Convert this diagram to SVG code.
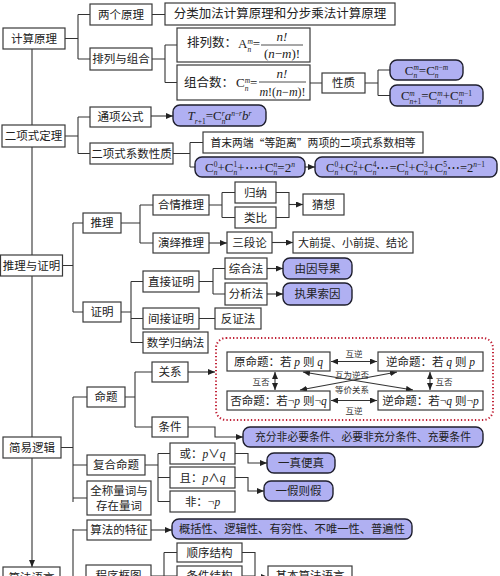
<svg xmlns="http://www.w3.org/2000/svg" width="500" height="576" viewBox="0 0 500 576">
<style>
.box{fill:#fff;stroke:#3a3a3a;stroke-width:1.2}
.pill{fill:#b0b0f2;stroke:#1f1f2e;stroke-width:1.4}
.t{font-family:"Liberation Serif","Noto Sans CJK SC",serif;font-size:11.5px;fill:#222;text-anchor:middle;dominant-baseline:central}
.f{font-family:"Liberation Serif",serif;font-size:13px;fill:#222;text-anchor:middle}
.i{font-style:italic}
.s{font-size:7.5px}
.q{font-family:"Noto Sans CJK SC",sans-serif}
.c{fill:none;stroke:#333;stroke-width:1.1}
.a{marker-end:url(#ah)}
.d{marker-start:url(#ah);marker-end:url(#ah)}
.lbl{font-family:"Noto Sans CJK SC",sans-serif;font-size:8.5px;fill:#333;text-anchor:middle;dominant-baseline:central}
.dot{fill:none;stroke:#c02035;stroke-width:2;stroke-dasharray:1.3 2.2}
</style>
<defs>
<marker id="ah" viewBox="0 0 7 6" refX="7" refY="3" markerWidth="7" markerHeight="6" markerUnits="userSpaceOnUse" orient="auto-start-reverse"><path d="M0,0 L7,3 L0,6 z" fill="#222"/></marker>
</defs>
<rect width="500" height="576" fill="#fff"/>

<g id="connectors">
<path class="c a" d="M32,49 V125 M32,147 V255 M32,276 V437 M32,458 V567"/>
<path class="c" d="M65,38.5 H78 M78,14.5 V59 M78,14.5 H90 M78,59 H90 M152,14.5 H165 M152,59 H165 M165,45 V82.5 M165,45 H177 M165,82.5 H177 M310,83 H322 M365,83 H378 M378,70 V95.5 M378,70 H390 M378,95.5 H390"/>
<path class="c" d="M65,136 H78 M78,117 V153.5 M78,117 H90 M78,153.5 H90 M173,153.5 H190 M190,142.5 V167 M190,142.5 H203 M190,167 H195"/>
<path class="c a" d="M151,116 H173"/>
<path class="c a" d="M305,167 H315"/>
<path class="c" d="M62,265.5 H73 M73,223 V312 M73,223 H83 M73,312 H83 M121,223 H140 M140,205 V243 M140,205 H153 M140,243 H153 M209,205 H222 M222,192.5 V217.5 M222,192.5 H235 M222,217.5 H235 M276,192.5 H289 V217.5 H276"/>
<path class="c a" d="M289,204.5 H303"/>
<path class="c a" d="M209,243 H227"/>
<path class="c a" d="M272,242.5 H293"/>
<path class="c" d="M121,312 H131 M131,281.5 V342.5 M131,281.5 H143 M131,318.5 H143 M131,342.5 H143 M199,281.5 H213 M213,268.5 V294 M213,268.5 H225 M213,294 H225 M199,318.5 H215"/>
<path class="c a" d="M267,268.5 H283"/>
<path class="c a" d="M267,294 H283"/>
<path class="c" d="M61,447.5 H73 M73,397 V502 M73,397 H87 M73,465 H87 M73,498 H87 M125,397 H135 M135,372 V427 M135,372 H152 M135,427 H152"/>
<path class="c a" d="M188,372 H215"/>
<path class="c a" d="M188,427 H215 V437 H243"/>
<path class="c d" d="M331,361.5 H377"/>
<path class="c d" d="M331,400.5 H377"/>
<path class="c d" d="M275,372 V390"/>
<path class="c d" d="M430,372 V390"/>
<path class="c d" d="M303,372 L413,390"/>
<path class="c d" d="M397,372 L300,390"/>
<path class="c" d="M145,465 H158 M158,453.5 V501.5 M158,453.5 H170 M158,477.5 H170 M158,501.5 H170"/>
<path class="c a" d="M235,453.5 H248 V463 H267"/>
<path class="c a" d="M235,477.5 H248 V491 H264"/>
<path class="c" d="M73,529 V590 M73,530 H87 M60,578 H86 M151,576 H164 M164,552.5 V590 M164,552.5 H177 M164,576 H177 M242,552.5 H255 V590 M242,576 H255"/>
<path class="c a" d="M151,530 H172"/>
<path class="c a" d="M255,577 H268"/>
</g>

<g id="n-jisuan"><rect class="box" x="3" y="28" width="62" height="21"/><text class="t" x="34" y="38.5">计算原理</text></g>
<g id="n-liangge"><rect class="box" x="90" y="4" width="62" height="21"/><text class="t" x="121" y="14.5">两个原理</text></g>
<g id="n-fenlei"><rect class="box" x="165" y="3" width="230" height="22"/><text class="t" x="280" y="14" style="font-size:12.5px">分类加法计算原理和分步乘法计算原理</text></g>
<g id="n-pailiezuhe"><rect class="box" x="90" y="48" width="62" height="22"/><text class="t" x="121" y="59">排列与组合</text></g>
<g id="n-pailieshu"><rect class="box" x="177" y="28" width="133" height="34"/>
<text class="t" x="187" y="43" style="text-anchor:start;font-size:12.5px">排列数：</text>
<text class="f" x="238" y="48" style="text-anchor:start">A<tspan class="s i" dy="3.5">n</tspan><tspan class="s i" dx="-3.75" dy="-8">m</tspan><tspan dy="4.5">=</tspan></text>
<text class="f i" x="282" y="41">n!</text>
<line x1="261" y1="45" x2="303" y2="45" stroke="#222" stroke-width="0.8"/>
<text class="f" x="282" y="57.5">(<tspan class="i">n</tspan>−<tspan class="i">m</tspan>)!</text>
</g>
<g id="n-zuheshu"><rect class="box" x="177" y="65" width="133" height="35"/>
<text class="t" x="184" y="83" style="text-anchor:start;font-size:12.5px">组合数：</text>
<text class="f" x="236" y="87" style="text-anchor:start">C<tspan class="s i" dy="3.5">n</tspan><tspan class="s i" dx="-3.75" dy="-8">m</tspan><tspan dy="4.5">=</tspan></text>
<text class="f i" x="282" y="78">n!</text>
<line x1="259" y1="82" x2="306" y2="82" stroke="#222" stroke-width="0.8"/>
<text class="f" x="282.5" y="95.5" style="font-size:12px"><tspan class="i">m</tspan>!(<tspan class="i">n</tspan>−<tspan class="i">m</tspan>)!</text>
</g>
<g id="n-xingzhi"><rect class="box" x="322" y="73" width="43" height="20"/><text class="t" x="343.5" y="83">性质</text></g>
<g id="n-prop1"><rect class="pill" x="390" y="60" width="73" height="20" rx="7"/>
<text class="f" x="426.5" y="74.5">C<tspan class="s i" dy="3.5">n</tspan><tspan class="s i" dx="-3.75" dy="-8">m</tspan><tspan dy="4.5">=C</tspan><tspan class="s i" dy="3.5">n</tspan><tspan class="s" dx="-3.75" dy="-8"><tspan class="i">n</tspan>−<tspan class="i">m</tspan></tspan></text></g>
<g id="n-prop2"><rect class="pill" x="390" y="85" width="93" height="21" rx="7"/>
<text class="f" x="436.5" y="100">C<tspan class="s" dy="3.5"><tspan class="i">n</tspan>+1</tspan><tspan class="s i" dx="-12" dy="-8">m</tspan><tspan dx="6.5" dy="4.5">=C</tspan><tspan class="s i" dy="3.5">n</tspan><tspan class="s i" dx="-3.75" dy="-8">m</tspan><tspan dy="4.5">+C</tspan><tspan class="s i" dy="3.5">n</tspan><tspan class="s" dx="-3.75" dy="-8"><tspan class="i">m</tspan>−1</tspan></text></g>

<g id="n-erxiang"><rect class="box" x="2" y="125" width="63" height="22"/><text class="t" x="33.5" y="136">二项式定理</text></g>
<g id="n-tongxiang"><rect class="box" x="90" y="107" width="61" height="20"/><text class="t" x="120.5" y="117">通项公式</text></g>
<g id="n-tr1"><rect class="pill" x="173" y="105" width="93" height="21" rx="7"/>
<text class="f" x="219.5" y="120"><tspan class="i">T</tspan><tspan class="s" dy="3.5"><tspan class="i">r</tspan>+1</tspan><tspan dy="-3.5">=C</tspan><tspan class="s i" dy="3.5">n</tspan><tspan class="s i" dx="-3.75" dy="-8">r</tspan><tspan class="i" dy="4.5">a</tspan><tspan class="s" dy="-4.5"><tspan class="i">n</tspan>−<tspan class="i">r</tspan></tspan><tspan class="i" dy="4.5">b</tspan><tspan class="s i" dy="-4.5">r</tspan></text></g>
<g id="n-xishu"><rect class="box" x="90" y="143" width="83" height="21"/><text class="t" x="131.5" y="153.5">二项式系数性质</text></g>
<g id="n-shoumo"><rect class="box" x="203" y="132" width="220" height="21"/><text class="t" x="313" y="142.5" style="font-size:10.8px">首末两端<tspan class="q">“</tspan>等距离<tspan class="q">”</tspan>两项的二项式系数相等</text></g>
<g id="n-sum"><rect class="pill" x="195" y="157" width="110" height="20" rx="7"/>
<text class="f" x="250" y="171.5">C<tspan class="s i" dy="3.5">n</tspan><tspan class="s" dx="-3.75" dy="-8">0</tspan><tspan dy="4.5">+C</tspan><tspan class="s i" dy="3.5">n</tspan><tspan class="s" dx="-3.75" dy="-8">1</tspan><tspan dy="4.5">+⋯+C</tspan><tspan class="s i" dy="3.5">n</tspan><tspan class="s i" dx="-3.75" dy="-8">n</tspan><tspan dy="4.5">=2</tspan><tspan class="s i" dy="-4.5">n</tspan></text></g>
<g id="n-oddeven"><rect class="pill" x="315" y="157" width="182" height="20" rx="7"/>
<text class="f" x="405.5" y="171.5" style="font-size:12.5px">C<tspan class="s i" dy="3.5">n</tspan><tspan class="s" dx="-3.75" dy="-8">0</tspan><tspan dy="4.5">+C</tspan><tspan class="s i" dy="3.5">n</tspan><tspan class="s" dx="-3.75" dy="-8">2</tspan><tspan dy="4.5">+C</tspan><tspan class="s i" dy="3.5">n</tspan><tspan class="s" dx="-3.75" dy="-8">4</tspan><tspan dy="4.5">⋯=C</tspan><tspan class="s i" dy="3.5">n</tspan><tspan class="s" dx="-3.75" dy="-8">1</tspan><tspan dy="4.5">+C</tspan><tspan class="s i" dy="3.5">n</tspan><tspan class="s" dx="-3.75" dy="-8">3</tspan><tspan dy="4.5">+C</tspan><tspan class="s i" dy="3.5">n</tspan><tspan class="s" dx="-3.75" dy="-8">5</tspan><tspan dy="4.5">⋯=2</tspan><tspan class="s" dy="-4.5"><tspan class="i">n</tspan>−1</tspan></text></g>

<g id="n-tlzm"><rect class="box" x="0.5" y="255" width="62" height="21"/><text class="t" x="31.5" y="265.5">推理与证明</text></g>
<g id="n-tuili"><rect class="box" x="83" y="213" width="38" height="20"/><text class="t" x="102" y="223">推理</text></g>
<g id="n-heqing"><rect class="box" x="153" y="195" width="56" height="20"/><text class="t" x="181" y="205">合情推理</text></g>
<g id="n-guina"><rect class="box" x="235" y="182" width="41" height="21"/><text class="t" x="255.5" y="192.5">归纳</text></g>
<g id="n-leibi"><rect class="box" x="235" y="207" width="41" height="21"/><text class="t" x="255.5" y="217.5">类比</text></g>
<g id="n-caixiang"><rect class="box" x="303" y="194" width="41" height="21"/><text class="t" x="323.5" y="204.5">猜想</text></g>
<g id="n-yanyi"><rect class="box" x="153" y="233" width="56" height="20"/><text class="t" x="181" y="243">演绎推理</text></g>
<g id="n-sanduan"><rect class="box" x="227" y="232" width="45" height="21"/><text class="t" x="249.5" y="242.5">三段论</text></g>
<g id="n-daqianti"><rect class="box" x="293" y="232" width="120" height="21"/><text class="t" x="353" y="242.5" style="font-size:11px">大前提、小前提、结论</text></g>
<g id="n-zhengming"><rect class="box" x="83" y="302" width="38" height="20"/><text class="t" x="102" y="312">证明</text></g>
<g id="n-zhijie"><rect class="box" x="143" y="271" width="56" height="21"/><text class="t" x="171" y="281.5">直接证明</text></g>
<g id="n-zonghe"><rect class="box" x="225" y="258" width="42" height="21"/><text class="t" x="246" y="268.5">综合法</text></g>
<g id="n-fenxi"><rect class="box" x="225" y="283" width="42" height="22"/><text class="t" x="246" y="294">分析法</text></g>
<g id="n-youyin"><rect class="pill" x="283" y="258" width="69" height="21" rx="7"/><text class="t" x="317.5" y="268.5">由因导果</text></g>
<g id="n-zhiguo"><rect class="pill" x="283" y="283" width="69" height="22" rx="7"/><text class="t" x="317.5" y="294">执果索因</text></g>
<g id="n-jianjie"><rect class="box" x="143" y="308" width="56" height="21"/><text class="t" x="171" y="318.5">间接证明</text></g>
<g id="n-fanzheng"><rect class="box" x="215" y="308" width="46" height="21"/><text class="t" x="238" y="318.5">反证法</text></g>
<g id="n-guinafa"><rect class="box" x="143" y="332" width="65" height="21"/><text class="t" x="175.5" y="342.5">数学归纳法</text></g>

<g id="n-jianyi"><rect class="box" x="3" y="437" width="58" height="21"/><text class="t" x="32" y="447.5">简易逻辑</text></g>
<g id="n-mingti"><rect class="box" x="87" y="387" width="38" height="20"/><text class="t" x="106" y="397">命题</text></g>
<g id="n-guanxi"><rect class="box" x="152" y="362" width="36" height="20"/><text class="t" x="170" y="372">关系</text></g>
<g id="n-tiaojian"><rect class="box" x="152" y="417" width="36" height="20"/><text class="t" x="170" y="427">条件</text></g>
<g id="n-relations">
<rect class="dot" x="216" y="338" width="277" height="82" rx="10"/>
<text class="lbl" x="354" y="353">互逆</text>
<text class="lbl" x="354" y="410">互逆</text>
<text class="lbl" x="261" y="381">互否</text>
<text class="lbl" x="444" y="381">互否</text>
<text class="lbl" x="352" y="373.5">互为逆否</text>
<text class="lbl" x="352" y="389">等价关系</text>
</g>
<g id="n-yuan"><rect class="box" x="227" y="352" width="103" height="19"/><text class="t" x="278.5" y="361.5">原命题：若 <tspan class="i">p</tspan> 则 <tspan class="i">q</tspan></text></g>
<g id="n-ni"><rect class="box" x="378" y="352" width="105" height="19"/><text class="t" x="430.5" y="361.5">逆命题：若 <tspan class="i">q</tspan> 则 <tspan class="i">p</tspan></text></g>
<g id="n-fou"><rect class="box" x="227" y="391" width="103" height="19"/><text class="t" x="278.5" y="400.5">否命题：若¬<tspan class="i">p</tspan> 则¬<tspan class="i">q</tspan></text></g>
<g id="n-nifou"><rect class="box" x="378" y="391" width="105" height="19"/><text class="t" x="430.5" y="400.5">逆命题：若¬<tspan class="i">q</tspan> 则¬<tspan class="i">p</tspan></text></g>
<g id="n-chongfen"><rect class="pill" x="243" y="427" width="240" height="20" rx="7"/><text class="t" x="363" y="437" style="font-size:10.8px">充分非必要条件、必要非充分条件、充要条件</text></g>
<g id="n-fuhe"><rect class="box" x="87" y="455" width="58" height="20"/><text class="t" x="116" y="465">复合命题</text></g>
<g id="n-liangci"><rect class="box" x="87" y="481" width="64" height="34"/><text class="t" x="119" y="491">全称量词与</text><text class="t" x="119" y="506">存在量词</text></g>
<g id="n-huo"><rect class="box" x="170" y="443" width="65" height="21"/><text class="t" x="202.5" y="453.5">或：<tspan class="i">p</tspan>∨<tspan class="i">q</tspan></text></g>
<g id="n-qie"><rect class="box" x="170" y="467" width="65" height="21"/><text class="t" x="202.5" y="477.5">且：<tspan class="i">p</tspan>∧<tspan class="i">q</tspan></text></g>
<g id="n-fei"><rect class="box" x="170" y="491" width="65" height="21"/><text class="t" x="202.5" y="501.5">非：¬<tspan class="i">p</tspan></text></g>
<g id="n-yizhen"><rect class="pill" x="267" y="453" width="68" height="20" rx="7"/><text class="t" x="301" y="463">一真便真</text></g>
<g id="n-yijia"><rect class="pill" x="264" y="481" width="69" height="20" rx="7"/><text class="t" x="298.5" y="491">一假则假</text></g>

<g id="n-suanfayy"><rect class="box" x="3" y="567" width="57" height="22"/><text class="t" x="31.5" y="578">算法语言</text></g>
<g id="n-tezheng"><rect class="box" x="87" y="520" width="64" height="20"/><text class="t" x="119" y="530">算法的特征</text></g>
<g id="n-gaikuo"><rect class="pill" x="172" y="519" width="240" height="20" rx="7"/><text class="t" x="292" y="529" style="font-size:11.3px">概括性、逻辑性、有穷性、不唯一性、普遍性</text></g>
<g id="n-kuangtu"><rect class="box" x="86" y="565" width="65" height="22"/><text class="t" x="118.5" y="576">程序框图</text></g>
<g id="n-shunxu"><rect class="box" x="177" y="543" width="65" height="19"/><text class="t" x="209.5" y="552.5">顺序结构</text></g>
<g id="n-tiaojianjg"><rect class="box" x="177" y="566" width="65" height="20"/><text class="t" x="209.5" y="576">条件结构</text></g>
<g id="n-jiben"><rect class="box" x="268" y="566" width="84" height="20"/><text class="t" x="310" y="576">基本算法语言</text></g>
</svg>
